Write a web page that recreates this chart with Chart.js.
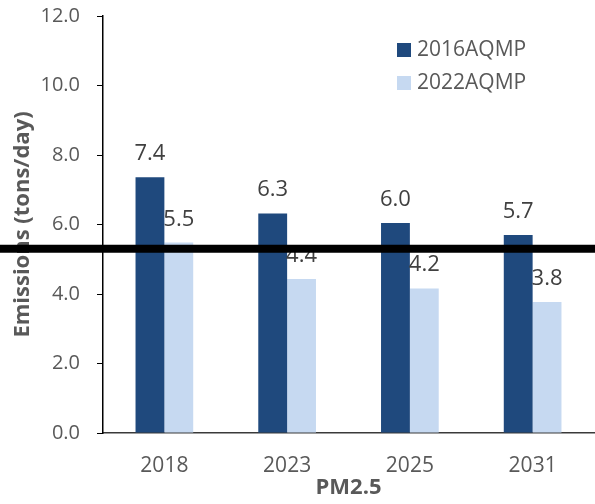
<!DOCTYPE html>
<html>
<head>
<meta charset="utf-8">
<script src="https://cdn.jsdelivr.net/npm/chart.js@4.4.1/dist/chart.umd.min.js"></script>
<style>
  body { margin: 0; background: #fff; }
  canvas { display: block; }
</style>
</head>
<body>
<canvas id="PM_CHART" width="595" height="504"></canvas>
<script>
const years = ['2018', '2023', '2025', '2031'];
const plan2016 = [7.36, 6.32, 6.04, 5.70];
const plan2022 = [5.48, 4.43, 4.16, 3.77];
const seriesNames = ['2016AQMP', '2022AQMP'];
const seriesColors = ['#1F497D', '#C6D9F1'];
const thresholdValue = 5.3;

const FONT = "'Open Sans', 'Noto Sans', sans-serif";

// value labels over every bar
const barLabels = {
    id: 'barLabels',
    afterDatasetsDraw(chart) {
        const ctx = chart.ctx;
        ctx.save();
        ctx.font = '22px ' + FONT;
        ctx.fillStyle = '#404040';
        ctx.textAlign = 'center';
        ctx.textBaseline = 'alphabetic';
        chart.data.datasets.forEach((ds, i) => {
            chart.getDatasetMeta(i).data.forEach((bar, j) => {
                ctx.fillText(ds.data[j].toFixed(1), bar.x, bar.y - 17);
            });
        });
        ctx.restore();
    }
};

// legend box inside the plot, top right
const boxLegend = {
    id: 'boxLegend',
    afterDraw(chart) {
        const ctx = chart.ctx;
        const area = chart.chartArea;
        ctx.save();
        ctx.font = '21px ' + FONT;
        ctx.textBaseline = 'middle';
        ctx.textAlign = 'left';
        chart.data.datasets.forEach((ds, i) => {
            const x = area.right - 197;
            const y = area.top + 34 + i * 33;
            ctx.fillStyle = ds.backgroundColor;
            ctx.fillRect(x, y - 7, 14, 14);
            ctx.fillStyle = '#595959';
            ctx.fillText(ds.label, x + 20, y);
        });
        ctx.restore();
    }
};

// thick black line across the whole picture
const thresholdLine = {
    id: 'thresholdLine',
    afterDraw(chart) {
        const ctx = chart.ctx;
        const y = chart.scales.y.getPixelForValue(thresholdValue);
        ctx.save();
        ctx.strokeStyle = '#000';
        ctx.lineWidth = 8;
        ctx.beginPath();
        ctx.moveTo(0, y);
        ctx.lineTo(chart.width, y);
        ctx.stroke();
        ctx.restore();
    }
};

const pmChart = new Chart(document.getElementById('PM_CHART').getContext('2d'), {
    type: 'bar',
    data: {
        labels: years,
        datasets: [{
            label: seriesNames[0],
            data: plan2016,
            backgroundColor: seriesColors[0]
        }, {
            label: seriesNames[1],
            data: plan2022,
            backgroundColor: seriesColors[1]
        }]
    },
    options: {
        responsive: false,
        animation: false,
        categoryPercentage: 0.47,
        barPercentage: 1,
        layout: { padding: { top: 16, right: 1, left: 0, bottom: 0 } },
        plugins: {
            legend: { display: false },
            tooltip: { enabled: false }
        },
        scales: {
            x: {
                grid: { display: false },
                border: { color: '#3a3a3a', width: 1.5 },
                ticks: { color: '#595959', font: { family: FONT, size: 21 }, padding: 12 },
                title: {
                    display: true,
                    text: 'PM2.5',
                    color: '#595959',
                    font: { family: FONT, size: 22, weight: 'bold' },
                    padding: { top: 0, bottom: 3 }
                },
                afterFit(scale) { scale.height = 71; }
            },
            y: {
                min: 0,
                max: 12,
                ticks: {
                    stepSize: 2,
                    color: '#595959',
                    font: { family: FONT, size: 20 },
                    padding: 17,
                    callback: (v) => v.toFixed(1)
                },
                grid: { drawOnChartArea: false, drawTicks: true, tickLength: 6, color: '#000' },
                border: { color: '#000', width: 1.5 },
                title: {
                    display: true,
                    text: 'Emissions (tons/day)',
                    color: '#595959',
                    font: { family: FONT, size: 22, weight: 'bold' },
                    padding: { top: 10, bottom: 0 }
                },
                afterFit(scale) {
                    scale.width = 103;
                    scale.paddingTop = 0;
                    scale.paddingBottom = 0;
                }
            }
        }
    },
    plugins: [barLabels, boxLegend, thresholdLine]
});
</script>
</body>
</html>
